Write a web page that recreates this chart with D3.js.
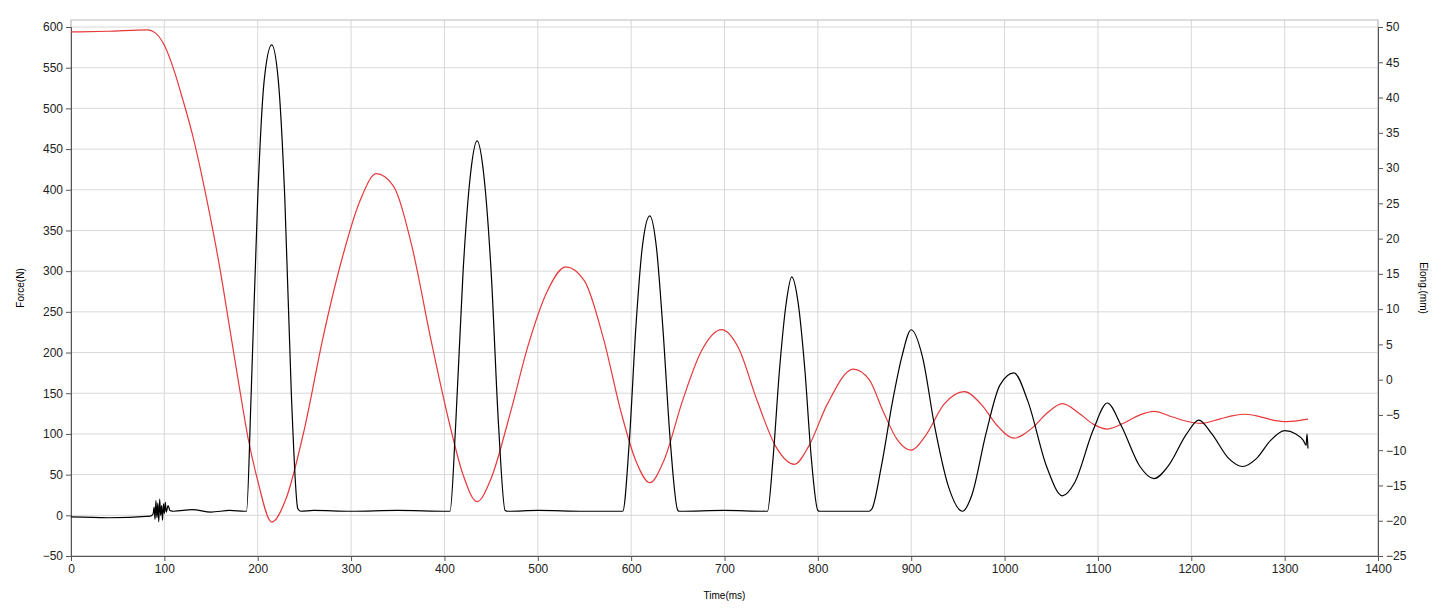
<!DOCTYPE html><html><head><meta charset="utf-8"><script src="https://cdn.jsdelivr.net/npm/d3@7"></script>
<style>body{margin:0;background:#fff}text{font-family:"Liberation Sans",Arial,sans-serif}</style></head><body><svg id="c" width="1445" height="608"></svg><script>
const timeTicks=[0,100,200,300,400,500,600,700,800,900,1000,1100,1200,1300,1400];
const forceTicks=[-50,0,50,100,150,200,250,300,350,400,450,500,550,600];
const elongTicks=[-25,-20,-15,-10,-5,0,5,10,15,20,25,30,35,40,45,50];
// Force (N) vs time (ms)
const forceT=[0,40,85,88,89,90,91,92,93,94,95,96,97,98,99,100,101,102,104,106,110,130,150,170,186,188,193,200,207,215,222,229,236,243,246,260,300,350,404,406,412,420,428,435,442,450,458,465,468,500,550,589,591,598,605,612,620,627,634,642,650,652,700,744,746,752,759,766,772,779,786,793,800,802,830,855,858,868,880,890,900,912,925,940,955,965,980,995,1010,1025,1045,1062,1075,1095,1110,1125,1145,1160,1175,1195,1208,1222,1240,1255,1270,1285,1300,1312,1320,1323,1324,1325];
const forceV=[-2,-3,-1,2,10,-5,18,-3,15,-8,20,0,12,-6,14,2,16,4,12,6,5,7,4,6,5,5,150,390,535,578,535,390,150,8,5,6,5,6,5,5,110,300,420,460,420,300,110,6,5,6,5,5,5,90,230,330,368,330,230,90,6,5,6,5,5,70,180,260,293,260,180,70,6,5,5,5,8,60,140,195,228,195,110,35,5,25,100,160,175,140,60,24,40,105,138,110,60,45,60,100,117,100,70,60,70,92,104,100,92,86,100,82];
// Elongation (mm) vs time (ms)
const elongT=[0,40,82,90,100,110,120,130,140,150,160,170,180,190,200,215,230,250,270,290,310,327,345,365,385,405,420,435,450,470,490,510,530,550,570,590,605,620,635,655,675,697,715,735,755,775,790,810,838,855,870,885,900,915,935,957,975,992,1010,1030,1045,1062,1080,1095,1110,1130,1145,1160,1180,1195,1210,1230,1245,1258,1275,1290,1300,1315,1325];
const elongV=[49.3,49.4,49.6,49.2,47.4,44,39.6,34.8,29,22.5,15.4,7.3,-0.8,-8.5,-14.3,-20.2,-17,-7,6,17,25.5,29.2,27.5,19,6,-6,-13.5,-17.3,-14,-5,5,12.5,16,14,6,-5,-11.5,-14.6,-11.5,-3,4,7.1,4.5,-3,-9.5,-12,-9.5,-3.5,1.5,0,-4.5,-8.5,-10,-8,-3.5,-1.7,-3.5,-6.5,-8.3,-6.8,-4.8,-3.4,-4.8,-6.3,-7,-6,-5,-4.5,-5.3,-5.9,-6.2,-5.6,-5.1,-4.9,-5.3,-5.8,-5.96,-5.8,-5.6];
const W=1445,H=608,m={l:71,r:67,t:20,b:52};
const svg=d3.select("#c");
const x=d3.scaleLinear().domain([0,1400]).range([m.l,W-m.r]);
const y=d3.scaleLinear().domain([-50,600]).range([H-m.b,27]);
const y2=d3.scaleLinear().domain([-25,50]).range([H-m.b,27]);
const g=svg.append("g");
g.selectAll(".gx").data(timeTicks).join("line").attr("x1",d=>x(d)).attr("x2",d=>x(d)).attr("y1",m.t).attr("y2",H-m.b).attr("stroke","#d8d8d8");
g.selectAll(".gy").data(forceTicks).join("line").attr("x1",m.l).attr("x2",W-m.r).attr("y1",d=>y(d)).attr("y2",d=>y(d)).attr("stroke","#d8d8d8");
svg.append("rect").attr("x",m.l).attr("y",m.t).attr("width",W-m.r-m.l).attr("height",H-m.b-m.t).attr("fill","none").attr("stroke","#bbb");
const f=d3.format("d");
const ax=svg.append("g").attr("transform",`translate(0,${H-m.b})`).call(d3.axisBottom(x).tickValues(timeTicks).tickFormat(f).tickSize(5));
const ay=svg.append("g").attr("transform",`translate(${m.l},0)`).call(d3.axisLeft(y).tickValues(forceTicks).tickFormat(f).tickSize(5));
const ay2=svg.append("g").attr("transform",`translate(${W-m.r},0)`).call(d3.axisRight(y2).tickValues(elongTicks).tickFormat(f).tickSize(5));
[ax,ay,ay2].forEach(a=>{a.selectAll("text").attr("font-size",12).attr("fill","#222").style("font-family","Liberation Sans, Arial");a.selectAll("path,line").attr("stroke","#555");});
const lr=d3.line().curve(d3.curveMonotoneX);
svg.append("path").attr("d",lr(elongT.map((t,i)=>[x(t),y2(elongV[i])]))).attr("fill","none").attr("stroke","#e8383a").attr("stroke-width",1.2);
svg.append("path").attr("d",lr(forceT.map((t,i)=>[x(t),y(forceV[i])]))).attr("fill","none").attr("stroke","#000").attr("stroke-width",1.2);
svg.append("text").attr("x",x(700)).attr("y",599).attr("text-anchor","middle").attr("font-size",10).text("Time(ms)");
svg.append("text").attr("transform",`translate(24,${(m.t+H-m.b)/2}) rotate(-90)`).attr("text-anchor","middle").attr("font-size",10).text("Force(N)");
svg.append("text").attr("transform",`translate(1420,${(m.t+H-m.b)/2}) rotate(90)`).attr("text-anchor","middle").attr("font-size",10).text("Elong.(mm)");
</script></body></html>
